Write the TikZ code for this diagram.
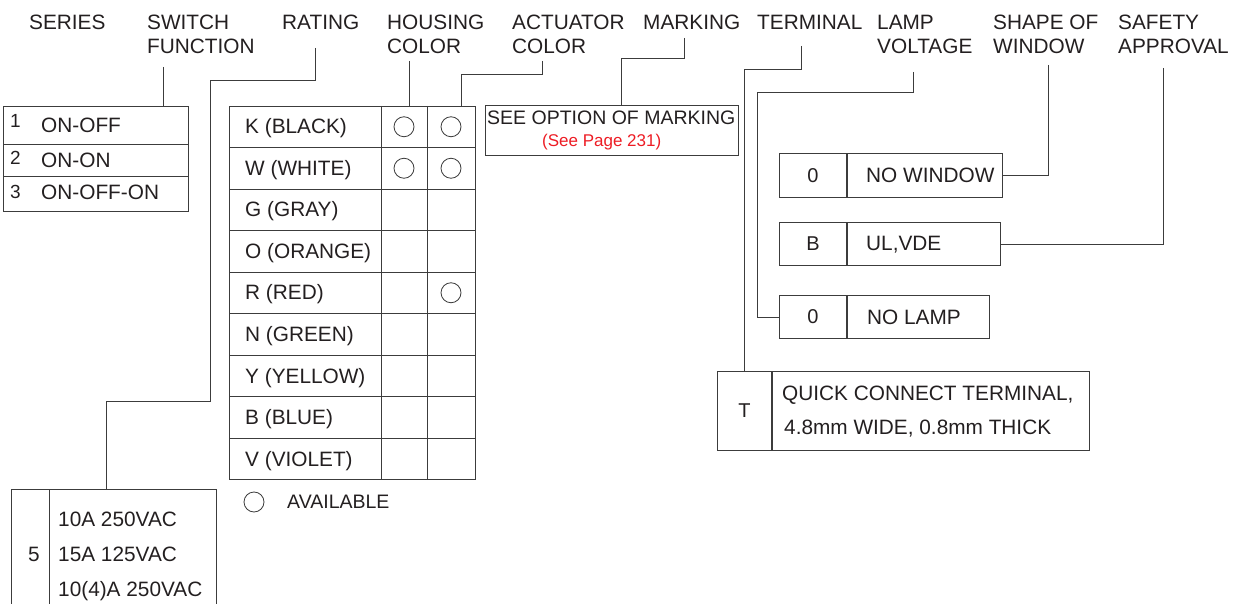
\documentclass[tikz,border=0pt]{standalone}
\usepackage{fontspec}
\setmainfont{Liberation Sans}
\usepackage{tikz}
\usetikzlibrary{positioning, calc}
\usepackage{xcolor}
\definecolor{pagered}{RGB}{237,28,36}
\definecolor{ink}{RGB}{35,31,32}
\definecolor{rule}{RGB}{60,60,60}

\begin{document}
\begin{tikzpicture}[x=1pt, y=-1pt,
		every node/.style={inner sep=0pt, text=ink},
		head/.style={anchor=north west, align=left, font=\fontsize{20.8}{24}\selectfont},
		txt/.style={anchor=base west, font=\fontsize{20.8}{24}\selectfont},
		num/.style={anchor=base west, font=\fontsize{19}{22}\selectfont},
		codebox/.style={draw=rule, line width=1pt, anchor=north west, font=\fontsize{20}{24}\selectfont},
		box/.style={draw=rule, line width=1pt, anchor=north west},
		leader/.style={draw=rule, line width=0.9pt},
		avail/.style={draw=rule, circle, minimum size=20pt, line width=0.8pt}]
			\useasboundingbox (0,0) rectangle (1243,604);
			
			% headings
			\node[head] (hSeries) at (29,15) {SERIES};
			\node[head] (hFunc) at (147,15) {SWITCH\\FUNCTION};
			\node[head] (hRating) at (282,15) {RATING};
			\node[head] (hHousing) at (387,15) {HOUSING\\COLOR};
			\node[head] (hActuator) at (512,15) {ACTUATOR\\COLOR};
			\node[head] (hMarking) at (643,15) {MARKING};
			\node[head] (hTerminal) at (757,15) {TERMINAL};
			\node[head] (hLamp) at (877,15) {LAMP\\VOLTAGE};
			\node[head] (hWindow) at (993,15) {SHAPE OF\\WINDOW};
			\node[head] (hSafety) at (1118,15) {SAFETY\\APPROVAL};
			
			% switch function
			\node[box, minimum width=185, minimum height=105] (swTab) at (3,106) {};
			\draw[rule] (swTab.west |- 0,144) -- (swTab.east |- 0,144);
			\draw[rule] (swTab.west |- 0,176) -- (swTab.east |- 0,176);
			\node[num] (n1) at (10,128) {1};
			\node[num] (n2) at (10,165) {2};
			\node[num] (n3) at (10,199) {3};
			\node[txt] (sw1) at (41,133) {ON-OFF};
			\node[txt] (sw2) at (41,168) {ON-ON};
			\node[txt] (sw3) at (41,200) {ON-OFF-ON};
			
			% rating
			\node[box, minimum width=205, minimum height=130] (rateTab) at (11,489) {};
			\draw[rule] (rateTab.north -| 49,0) -- (rateTab.south -| 49,0);
			\node[txt] (r0) at (28,561) {5};
			\node[txt] (r1) at (58,526.5) {10A 250VAC};
			\node[txt] (r2) at (58,561.5) {15A 125VAC};
			\node[txt] (r3) at (58,596) {10(4)A 250VAC};
			
			% housing / actuator colour
			\node[box, minimum width=246, minimum height=373] (colTab) at (229,106) {};
			\foreach \r in {1,...,8}
				\draw[rule] (229,{106+41.5*\r}) -- (475,{106+41.5*\r});
			\draw[rule] (colTab.north -| 381,0) -- (colTab.south -| 381,0);
			\draw[rule] (colTab.north -| 427,0) -- (colTab.south -| 427,0);
			\foreach \lbl [count=\i] in {K (BLACK), W (WHITE), G (GRAY), O (ORANGE), R (RED), N (GREEN), Y (YELLOW), B (BLUE), V (VIOLET)}
				\node[txt] (col\i) at (245,{92.5+41.5*\i}) {\lbl};
			\node[avail] (hK) at (404,126.75) {};
			\node[avail] (aK) at (451,126.75) {};
			\node[avail] (hW) at (404,168.25) {};
			\node[avail] (aW) at (451,168.25) {};
			\node[avail] (aR) at (451,292.75) {};
			\node[avail] (legC) at (254,502) {};
			\node[txt, font=\fontsize{19.5}{22}\selectfont] (legT) at (287,508) {AVAILABLE};
			
			% marking
			\node[box, minimum width=253, minimum height=50] (markBox) at (485,105) {};
			\node[txt, font=\fontsize{19.5}{22}\selectfont] (markTxt) at (487,125) {SEE OPTION OF MARKING};
			\node[txt, font=\fontsize{17}{20}\selectfont, text=pagered] (markPage) at (542,146.5) {(See Page 231)};
			
			% window, approval, lamp, terminal
			\node[codebox, minimum width=67, minimum height=44] (winCode) at (779,153) {0};
			\node[box, minimum width=155, minimum height=44] (winDesc) at (winCode.north east) {};
			\node[txt] (winTxt) at (866,182.3) {NO WINDOW};
			\node[codebox, minimum width=67, minimum height=43] (ulCode) at (779,222) {B};
			\node[box, minimum width=153, minimum height=43] (ulDesc) at (ulCode.north east) {};
			\node[txt] (ulTxt) at (866,250.8) {UL,VDE};
			\node[codebox, minimum width=67, minimum height=43] (lampCode) at (779,295) {0};
			\node[box, minimum width=142, minimum height=43] (lampDesc) at (lampCode.north east) {};
			\node[txt] (lampTxt) at (867,324) {NO LAMP};
			\node[codebox, minimum width=54, minimum height=79] (tCode) at (717,371) {T};
			\node[box, minimum width=317, minimum height=79] (tDesc) at (tCode.north east) {};
			\node[txt] (qc1) at (782,400.7) {QUICK CONNECT TERMINAL,};
			\node[txt] (qc2) at (784,434) {4.8mm WIDE, 0.8mm THICK};
			
			% leaders
			\coordinate (fFunc) at (163,67);
			\coordinate (fRating) at (315,48);
			\coordinate (fHousing) at (409,61);
			\coordinate (fActuator) at (542,61);
			\coordinate (fMarking) at (684,38);
			\coordinate (fTerminal) at (801,46);
			\coordinate (fLamp) at (913,72);
			\coordinate (fWindow) at (1048,65);
			\coordinate (fSafety) at (1163,68);
			\draw[leader] (fFunc) -- (swTab.north -| fFunc);
			\draw[leader] (fRating) |- (210,80) |- (106,401) -- (rateTab.north -| 106,0);
			\draw[leader] (fHousing) -- (colTab.north -| fHousing);
			\draw[leader] (fActuator) |- (461,74) -- (colTab.north -| 461,0);
			\draw[leader] (fMarking) |- (621,58) -- (markBox.north -| 621,0);
			\draw[leader] (fTerminal) |- (744,69) -- (tCode.north -| 744,0);
			\draw[leader] (fLamp) |- (757,92) |- (lampCode.west);
			\draw[leader] (fWindow) |- (winDesc.east);
			\draw[leader] (fSafety) |- (ulDesc.east);
		\end{tikzpicture}
\end{document}
